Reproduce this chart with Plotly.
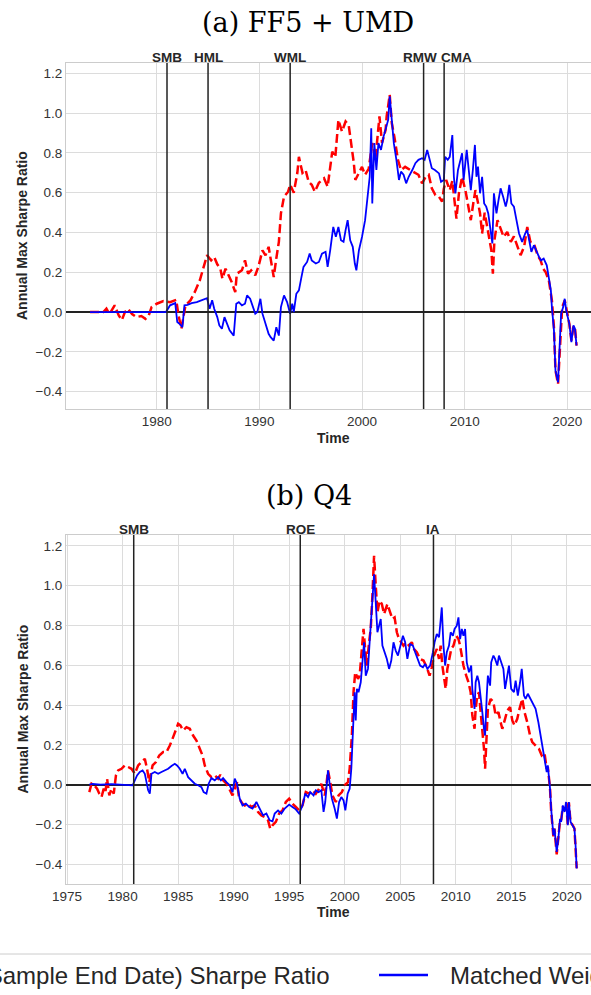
import plotly.graph_objects as go

W, H = 591, 995

# ---------------- DATA ----------------
FACTORS_A = ["SMB", "HML", "WML", "RMW", "CMA"]
FACTOR_YEARS_A = [1981, 1985, 1993, 2006, 2008]
FACTORS_B = ["SMB", "ROE", "IA"]
FACTOR_YEARS_B = [1981, 1996, 2008]

XTICKS_A = [1980, 1990, 2000, 2010, 2020]
XTICKS_B = [1975, 1980, 1985, 1990, 1995, 2000, 2005, 2010, 2015, 2020]
YTICKS = [-0.4, -0.2, 0.0, 0.2, 0.4, 0.6, 0.8, 1.0, 1.2]

TITLE_A = "(a) FF5 + UMD"
TITLE_B = "(b) Q4"
NAME_OPT = "Optimal (Full Sample End Date) Sharpe Ratio"
NAME_MATCH = "Matched Weights Sharpe Ratio"

# (a) FF5 + UMD : optimal (red dashed)
A_OPT = [(1973.5, 0.0), (1974.8, 0.0), (1975.1, 0.017), (1975.4, -0.01), (1975.9, 0.034), (1976.3, -0.017),
         (1976.6, -0.04), (1976.9, 0.0), (1977.2, 0.017), (1977.6, -0.01), (1978.0, -0.025), (1978.5, -0.02),
         (1978.9, -0.034), (1979.2, -0.02), (1979.5, 0.025), (1980.0, 0.042), (1980.65, 0.055), (1981.3, 0.05),
         (1981.9, 0.062), (1982.1, -0.01), (1982.4, -0.084), (1982.8, 0.034), (1983.3, 0.06), (1983.7, 0.1),
         (1984.2, 0.16), (1984.6, 0.227), (1984.9, 0.286), (1985.3, 0.26), (1985.6, 0.277), (1985.9, 0.24),
         (1986.2, 0.218), (1986.4, 0.168), (1986.7, 0.218), (1987.0, 0.185), (1987.3, 0.151), (1987.65, 0.1),
         (1987.8, 0.193), (1988.3, 0.21), (1988.6, 0.26), (1988.9, 0.193), (1989.2, 0.21), (1989.6, 0.185),
         (1989.9, 0.227), (1990.3, 0.31), (1990.6, 0.285), (1990.9, 0.328), (1991.15, 0.26), (1991.4, 0.176),
         (1991.65, 0.27), (1991.9, 0.353), (1992.1, 0.496), (1992.4, 0.58), (1992.8, 0.605), (1993.0, 0.64),
         (1993.35, 0.6), (1993.7, 0.70), (1993.85, 0.78), (1994.2, 0.7), (1994.5, 0.714), (1994.8, 0.655),
         (1995.1, 0.64), (1995.4, 0.605), (1995.8, 0.65), (1996.3, 0.672), (1996.65, 0.63), (1997.1, 0.806),
         (1997.4, 0.78), (1997.7, 0.966), (1998.05, 0.907), (1998.4, 0.958), (1998.7, 0.94), (1999.0, 0.83),
         (1999.2, 0.75), (1999.35, 0.664), (1999.7, 0.70), (2000.0, 0.73), (2000.3, 0.69), (2000.65, 0.72),
         (2001.0, 0.85), (2001.3, 0.765), (2001.7, 0.983), (2001.95, 0.85), (2002.3, 0.916), (2002.4, 0.983),
         (2002.7, 1.092), (2002.9, 0.95), (2003.15, 0.882), (2003.5, 0.765), (2003.8, 0.714), (2004.2, 0.73),
         (2004.7, 0.714), (2005.1, 0.70), (2005.5, 0.69), (2005.85, 0.647), (2006.2, 0.68), (2006.5, 0.69),
         (2006.8, 0.622), (2007.15, 0.588), (2007.5, 0.58), (2007.8, 0.555), (2007.97, 0.62), (2008.2, 0.664),
         (2008.55, 0.613), (2008.8, 0.66), (2009.0, 0.563), (2009.2, 0.47), (2009.45, 0.6), (2009.75, 0.68),
         (2010.1, 0.605), (2010.35, 0.53), (2010.6, 0.462), (2010.85, 0.55), (2011.05, 0.613), (2011.3, 0.55),
         (2011.5, 0.496), (2011.7, 0.395), (2011.95, 0.5), (2012.2, 0.428), (2012.35, 0.378), (2012.6, 0.311),
         (2012.75, 0.193), (2012.9, 0.361), (2013.2, 0.462), (2013.5, 0.42), (2013.8, 0.378), (2014.15, 0.403),
         (2014.5, 0.353), (2014.8, 0.38), (2015.1, 0.336), (2015.45, 0.286), (2015.8, 0.33), (2016.1, 0.428),
         (2016.4, 0.353), (2016.75, 0.345), (2017.1, 0.286), (2017.4, 0.26), (2017.65, 0.218), (2017.9, 0.2),
         (2018.2, 0.16), (2018.5, 0.059), (2018.7, -0.076), (2018.85, -0.294), (2019.1, -0.361), (2019.3, -0.176),
         (2019.5, 0.025), (2019.75, 0.059), (2019.95, 0.0), (2020.2, -0.059), (2020.4, -0.143), (2020.6, -0.07),
         (2020.75, -0.08), (2020.9, -0.168)]

# (a) FF5 + UMD : matched weights (blue solid)
A_MATCH = [(1973.5, 0.0), (1980.9, 0.0), (1981.3, 0.034), (1981.8, 0.045), (1982.0, -0.05), (1982.25, -0.06),
           (1982.5, -0.076), (1982.7, 0.034), (1983.0, 0.036), (1983.4, 0.045), (1983.9, 0.05), (1984.4, 0.062),
           (1984.9, 0.07), (1985.15, 0.017), (1985.4, 0.06), (1985.6, 0.017), (1985.9, -0.025), (1986.1, -0.067),
           (1986.35, -0.084), (1986.6, -0.025), (1986.85, -0.059), (1987.1, -0.092), (1987.5, -0.118),
           (1987.75, 0.042), (1988.0, 0.05), (1988.3, 0.034), (1988.6, 0.042), (1988.8, 0.084), (1989.1, 0.067),
           (1989.4, 0.017), (1989.6, -0.008), (1989.8, 0.0), (1990.1, 0.067), (1990.3, -0.008), (1990.6, -0.059),
           (1990.9, -0.109), (1991.1, -0.126), (1991.4, -0.143), (1991.65, -0.076), (1991.9, -0.118),
           (1992.1, 0.025), (1992.4, 0.084), (1992.7, 0.05), (1993.0, -0.008), (1993.2, 0.042), (1993.35, 0.0),
           (1993.6, 0.092), (1993.85, 0.109), (1994.1, 0.176), (1994.3, 0.227), (1994.65, 0.252), (1994.9, 0.294),
           (1995.1, 0.26), (1995.5, 0.244), (1995.8, 0.252), (1996.1, 0.294), (1996.45, 0.303), (1996.65, 0.227),
           (1996.9, 0.31), (1997.2, 0.428), (1997.45, 0.378), (1997.7, 0.428), (1997.95, 0.361), (1998.2, 0.353),
           (1998.4, 0.412), (1998.6, 0.462), (1998.85, 0.361), (1999.1, 0.328), (1999.3, 0.244), (1999.45, 0.21),
           (1999.7, 0.311), (2000.0, 0.378), (2000.3, 0.462), (2000.55, 0.58), (2000.75, 0.68), (2000.9, 0.924),
           (2001.0, 0.546), (2001.2, 0.849), (2001.4, 0.714), (2001.6, 0.849), (2001.85, 0.815), (2002.1, 0.882),
           (2002.35, 0.933), (2002.55, 0.966), (2002.7, 1.084), (2002.9, 0.95), (2003.1, 0.849), (2003.35, 0.765),
           (2003.6, 0.664), (2003.8, 0.706), (2004.05, 0.69), (2004.3, 0.647), (2004.55, 0.68), (2004.9, 0.714),
           (2005.2, 0.748), (2005.5, 0.765), (2005.85, 0.773), (2006.1, 0.765), (2006.35, 0.815), (2006.6, 0.765),
           (2006.8, 0.723), (2007.1, 0.714), (2007.5, 0.697), (2007.7, 0.655), (2007.97, 0.664), (2008.1, 0.78),
           (2008.35, 0.765), (2008.55, 0.78), (2008.8, 0.89), (2008.95, 0.68), (2009.1, 0.597), (2009.35, 0.714),
           (2009.55, 0.765), (2009.75, 0.798), (2009.9, 0.664), (2010.2, 0.815), (2010.4, 0.714), (2010.6, 0.613),
           (2010.8, 0.714), (2011.0, 0.84), (2011.15, 0.68), (2011.3, 0.731), (2011.5, 0.597), (2011.7, 0.68),
           (2011.9, 0.546), (2012.1, 0.53), (2012.3, 0.496), (2012.5, 0.428), (2012.7, 0.345), (2012.85, 0.597),
           (2013.1, 0.496), (2013.3, 0.563), (2013.5, 0.622), (2013.75, 0.58), (2014.0, 0.53), (2014.15, 0.563),
           (2014.35, 0.639), (2014.55, 0.546), (2014.8, 0.53), (2015.05, 0.462), (2015.3, 0.395), (2015.6, 0.353),
           (2015.9, 0.395), (2016.1, 0.412), (2016.3, 0.353), (2016.5, 0.303), (2016.75, 0.336), (2017.0, 0.303),
           (2017.25, 0.277), (2017.45, 0.26), (2017.7, 0.269), (2018.0, 0.235), (2018.2, 0.168), (2018.4, 0.109),
           (2018.5, 0.025), (2018.7, -0.092), (2018.85, -0.294), (2019.1, -0.353), (2019.25, -0.176),
           (2019.4, -0.008), (2019.6, 0.025), (2019.75, 0.067), (2019.9, 0.008), (2020.2, -0.059), (2020.4, -0.151),
           (2020.6, -0.067), (2020.75, -0.084), (2020.9, -0.168)]

# (b) Q4 : optimal (red dashed)
B_OPT = [(1977.0, -0.037), (1977.2, 0.005), (1977.45, -0.003), (1977.7, -0.02), (1977.9, -0.045), (1978.1, -0.062),
         (1978.3, -0.02), (1978.45, -0.037), (1978.6, 0.03), (1978.8, -0.054), (1979.0, -0.02), (1979.2, -0.045),
         (1979.4, 0.047), (1979.6, 0.072), (1979.9, 0.08), (1980.2, 0.097), (1980.5, 0.089), (1980.8, 0.08),
         (1981.1, 0.055), (1981.4, 0.097), (1981.7, 0.114), (1982.0, 0.13), (1982.2, 0.08), (1982.4, 0.013),
         (1982.7, 0.097), (1983.0, 0.114), (1983.3, 0.147), (1983.65, 0.164), (1983.95, 0.164), (1984.25, 0.197),
         (1984.55, 0.239), (1984.8, 0.281), (1985.0, 0.306), (1985.2, 0.298), (1985.45, 0.273), (1985.75, 0.289),
         (1986.05, 0.281), (1986.35, 0.247), (1986.65, 0.222), (1986.95, 0.181), (1987.2, 0.147), (1987.4, 0.097),
         (1987.7, 0.055), (1988.0, 0.038), (1988.3, 0.047), (1988.6, 0.03), (1988.8, 0.05), (1989.05, 0.022),
         (1989.35, 0.005), (1989.6, -0.02), (1989.9, -0.054), (1990.1, -0.02), (1990.3, 0.013), (1990.5, -0.07),
         (1990.8, -0.095), (1991.0, -0.104), (1991.3, -0.095), (1991.6, -0.112), (1991.9, -0.104), (1992.2, -0.137),
         (1992.5, -0.154), (1992.8, -0.162), (1993.1, -0.179), (1993.3, -0.221), (1993.5, -0.204), (1993.8, -0.187),
         (1994.1, -0.145), (1994.4, -0.129), (1994.7, -0.087), (1995.0, -0.07), (1995.3, -0.095), (1995.6, -0.112),
         (1995.9, -0.129), (1996.2, -0.104), (1996.5, -0.037), (1996.8, -0.045), (1997.1, -0.028), (1997.4, -0.045),
         (1997.7, -0.02), (1997.9, 0.005), (1998.05, -0.02), (1998.2, -0.054), (1998.35, -0.003), (1998.5, 0.072),
         (1998.7, 0.013), (1998.9, -0.054), (1999.2, -0.087), (1999.45, -0.054), (1999.75, -0.037), (2000.0, -0.003),
         (2000.3, 0.013), (2000.45, 0.08), (2000.65, 0.247), (2000.8, 0.465), (2000.95, 0.565), (2001.2, 0.532),
         (2001.35, 0.548), (2001.5, 0.649), (2001.7, 0.783), (2001.85, 0.682), (2002.0, 0.599), (2002.2, 0.716),
         (2002.35, 0.783), (2002.5, 0.95), (2002.65, 1.15), (2002.8, 1.0), (2002.95, 0.866), (2003.15, 0.925),
         (2003.35, 0.908), (2003.55, 0.858), (2003.85, 0.908), (2004.1, 0.866), (2004.3, 0.833), (2004.5, 0.841),
         (2004.7, 0.766), (2004.9, 0.732), (2005.1, 0.716), (2005.3, 0.699), (2005.55, 0.716), (2005.8, 0.699),
         (2006.05, 0.716), (2006.25, 0.682), (2006.5, 0.666), (2006.8, 0.632), (2007.1, 0.624), (2007.4, 0.59),
         (2007.65, 0.548), (2007.85, 0.59), (2008.05, 0.649), (2008.3, 0.682), (2008.5, 0.632), (2008.65, 0.699),
         (2008.8, 0.599), (2008.95, 0.548), (2009.1, 0.482), (2009.25, 0.582), (2009.45, 0.649), (2009.6, 0.682),
         (2009.8, 0.699), (2010.05, 0.749), (2010.25, 0.732), (2010.4, 0.699), (2010.55, 0.649), (2010.7, 0.599),
         (2010.95, 0.548), (2011.15, 0.515), (2011.35, 0.465), (2011.5, 0.348), (2011.7, 0.281), (2011.8, 0.381),
         (2011.95, 0.448), (2012.1, 0.465), (2012.25, 0.365), (2012.4, 0.281), (2012.55, 0.181), (2012.65, 0.08),
         (2012.8, 0.247), (2012.9, 0.381), (2013.15, 0.431), (2013.4, 0.415), (2013.6, 0.348), (2013.85, 0.365),
         (2014.05, 0.314), (2014.2, 0.281), (2014.45, 0.331), (2014.65, 0.373), (2014.9, 0.39), (2015.1, 0.323),
         (2015.3, 0.298), (2015.55, 0.331), (2015.75, 0.381), (2016.0, 0.431), (2016.2, 0.365), (2016.45, 0.314),
         (2016.7, 0.247), (2016.9, 0.214), (2017.2, 0.197), (2017.5, 0.181), (2017.75, 0.147), (2018.0, 0.16),
         (2018.2, 0.08), (2018.3, 0.09), (2018.5, -0.02), (2018.6, -0.13), (2018.8, -0.26), (2018.9, -0.22),
         (2019.1, -0.35), (2019.25, -0.27), (2019.4, -0.18), (2019.5, -0.18), (2019.65, -0.11), (2019.8, -0.13),
         (2019.95, -0.09), (2020.1, -0.2), (2020.2, -0.09), (2020.35, -0.19), (2020.5, -0.2), (2020.7, -0.22),
         (2020.8, -0.3), (2020.9, -0.42)]

# (b) Q4 : matched weights (blue solid)
B_MATCH = [(1977.0, 0.0), (1977.3, 0.004), (1978.0, 0.0), (1979.0, 0.003), (1980.9, -0.003), (1981.1, 0.022),
           (1981.3, 0.047), (1981.55, 0.064), (1981.8, 0.072), (1982.0, 0.055), (1982.15, 0.013), (1982.3, -0.028),
           (1982.45, -0.045), (1982.6, 0.055), (1982.9, 0.064), (1983.2, 0.055), (1983.5, 0.064), (1983.8, 0.072),
           (1984.1, 0.08), (1984.4, 0.094), (1984.7, 0.105), (1984.9, 0.097), (1985.15, 0.08), (1985.4, 0.055),
           (1985.6, 0.08), (1985.9, 0.038), (1986.2, 0.022), (1986.5, 0.005), (1986.8, -0.003), (1987.1, -0.012),
           (1987.3, -0.037), (1987.55, -0.045), (1987.75, 0.005), (1988.0, 0.033), (1988.3, 0.022), (1988.6, 0.038),
           (1988.85, 0.022), (1989.05, 0.033), (1989.35, 0.013), (1989.65, -0.003), (1989.9, -0.037), (1990.1, 0.03),
           (1990.3, 0.005), (1990.55, -0.07), (1990.8, -0.104), (1991.1, -0.095), (1991.4, -0.112), (1991.7, -0.12),
           (1992.05, -0.087), (1992.35, -0.12), (1992.65, -0.154), (1992.95, -0.145), (1993.25, -0.179),
           (1993.5, -0.184), (1993.7, -0.145), (1994.0, -0.129), (1994.3, -0.145), (1994.6, -0.12), (1995.0, -0.1),
           (1995.3, -0.112), (1995.6, -0.124), (1995.9, -0.145), (1996.2, -0.104), (1996.45, -0.045), (1996.7, -0.062),
           (1996.9, -0.037), (1997.2, -0.054), (1997.4, -0.028), (1997.65, -0.037), (1997.9, -0.028), (1998.1, -0.137),
           (1998.25, -0.087), (1998.5, 0.072), (1998.7, -0.02), (1998.85, -0.07), (1999.1, -0.12), (1999.3, -0.17),
           (1999.5, -0.087), (1999.7, -0.062), (1999.9, -0.079), (2000.06, -0.129), (2000.27, -0.045),
           (2000.45, -0.02), (2000.6, 0.08), (2000.75, 0.247), (2000.9, 0.465), (2001.0, 0.323), (2001.1, 0.482),
           (2001.25, 0.465), (2001.45, 0.515), (2001.6, 0.615), (2001.75, 0.716), (2001.9, 0.548), (2002.1, 0.582),
           (2002.25, 0.716), (2002.4, 0.866), (2002.55, 0.983), (2002.65, 1.058), (2002.8, 0.916), (2002.95, 0.766),
           (2003.1, 0.799), (2003.25, 0.833), (2003.4, 0.699), (2003.6, 0.666), (2003.8, 0.632), (2004.0, 0.582),
           (2004.2, 0.624), (2004.4, 0.716), (2004.6, 0.674), (2004.8, 0.649), (2005.0, 0.699), (2005.25, 0.749),
           (2005.45, 0.716), (2005.65, 0.632), (2005.9, 0.707), (2006.15, 0.699), (2006.35, 0.666), (2006.55, 0.64),
           (2006.8, 0.599), (2007.05, 0.59), (2007.25, 0.607), (2007.45, 0.582), (2007.7, 0.599), (2007.95, 0.666),
           (2008.1, 0.716), (2008.3, 0.757), (2008.5, 0.741), (2008.6, 0.799), (2008.75, 0.891), (2008.9, 0.699),
           (2009.05, 0.599), (2009.2, 0.666), (2009.4, 0.699), (2009.55, 0.766), (2009.75, 0.749), (2009.9, 0.783),
           (2010.1, 0.799), (2010.25, 0.841), (2010.4, 0.732), (2010.55, 0.783), (2010.7, 0.749), (2010.85, 0.783),
           (2011.0, 0.615), (2011.2, 0.565), (2011.4, 0.599), (2011.5, 0.482), (2011.7, 0.381), (2011.8, 0.515),
           (2011.95, 0.548), (2012.1, 0.515), (2012.25, 0.448), (2012.4, 0.365), (2012.55, 0.281), (2012.65, 0.247),
           (2012.8, 0.448), (2012.9, 0.548), (2013.1, 0.498), (2013.2, 0.615), (2013.4, 0.649), (2013.55, 0.632),
           (2013.75, 0.599), (2013.9, 0.649), (2014.1, 0.615), (2014.3, 0.582), (2014.45, 0.482), (2014.65, 0.548),
           (2014.8, 0.599), (2015.0, 0.482), (2015.25, 0.465), (2015.4, 0.523), (2015.6, 0.448), (2015.8, 0.515),
           (2015.95, 0.582), (2016.15, 0.448), (2016.3, 0.431), (2016.5, 0.457), (2016.75, 0.431), (2017.0, 0.398),
           (2017.2, 0.381), (2017.45, 0.314), (2017.65, 0.247), (2017.8, 0.181), (2018.0, 0.114), (2018.2, 0.064),
           (2018.3, 0.097), (2018.5, -0.02), (2018.6, -0.12), (2018.8, -0.254), (2018.9, -0.221), (2019.1, -0.338),
           (2019.25, -0.271), (2019.4, -0.171), (2019.5, -0.187), (2019.65, -0.104), (2019.8, -0.137),
           (2019.95, -0.087), (2020.1, -0.204), (2020.2, -0.087), (2020.35, -0.187), (2020.5, -0.204),
           (2020.7, -0.221), (2020.8, -0.304), (2020.9, -0.421)]

# ---------------- FIGURE ----------------
SANS = "Liberation Sans, Arial, sans-serif"
SERIF = "DejaVu Serif, serif"
TXT = "#262626"
RED = "#ff0000"
BLUE = "#0000ff"

# pixel nudges of factor labels (style only)
LABEL_SHIFT_A = [0, 0, 0, -4, 12]
LABEL_SHIFT_B = [0, 0, 0]


def py(p):  # pixel row -> paper y
    return 1 - p / H


def unzip(pairs):
    return [p[0] for p in pairs], [p[1] for p in pairs]


fig = go.Figure()
for series, color, dash, width, xa, ya in [
    (A_OPT, RED, "9px,4px", 2.5, "x", "y"),
    (A_MATCH, BLUE, "solid", 1.8, "x", "y"),
    (B_OPT, RED, "9px,4px", 2.5, "x2", "y2"),
    (B_MATCH, BLUE, "solid", 1.8, "x2", "y2"),
]:
    xs, ys = unzip(series)
    fig.add_trace(go.Scatter(x=xs, y=ys, mode="lines", xaxis=xa, yaxis=ya, showlegend=False,
                             line=dict(color=color, width=width, dash=dash)))

GRID = "#dcdcdc"
SPINE = "#cccccc"
tickfont = dict(family=SANS, size=13.5, color="#333333")

xcommon = dict(showgrid=True, gridcolor=GRID, gridwidth=1, showline=True, linecolor=SPINE, linewidth=1.2,
               mirror=True, zeroline=False, ticks="", tickfont=tickfont, fixedrange=True, automargin=False)
ycommon = dict(showgrid=True, gridcolor=GRID, gridwidth=1, showline=True, linecolor=SPINE, linewidth=1.2,
               mirror=False, zeroline=True, zerolinecolor="#222222", zerolinewidth=1.5, ticks="",
               tickvals=YTICKS, tickformat=".1f", tickfont=tickfont, fixedrange=True, automargin=False)

X0 = 66 / W
fig.update_layout(
    template="none",
    width=W, height=H, autosize=False,
    margin=dict(l=0, r=0, t=0, b=0, pad=0, autoexpand=False),
    paper_bgcolor="white", plot_bgcolor="white",
    showlegend=False,
    xaxis=dict(xcommon, domain=[X0, 1], range=[1971.16, 2022.31], tickvals=XTICKS_A, anchor="y"),
    yaxis=dict(ycommon, domain=[py(409), py(63)], range=[-0.487, 1.2518], anchor="x"),
    xaxis2=dict(xcommon, domain=[X0, 1], range=[1974.9, 2022.19], tickvals=XTICKS_B, anchor="y2"),
    yaxis2=dict(ycommon, domain=[py(884), py(535)], range=[-0.499, 1.255], anchor="x2"),
)

shapes = []
annotations = []
for names, years, shifts, xr, yr in [(FACTORS_A, FACTOR_YEARS_A, LABEL_SHIFT_A, "x", "y"),
                                     (FACTORS_B, FACTOR_YEARS_B, LABEL_SHIFT_B, "x2", "y2")]:
    for n, yv, sh in zip(names, years, shifts):
        shapes.append(dict(type="line", xref=xr, yref=yr + " domain", x0=yv, x1=yv, y0=0, y1=1,
                           line=dict(color="#222222", width=1.5), layer="above"))
        annotations.append(dict(xref=xr, yref=yr + " domain", x=yv, y=1, yanchor="bottom", xanchor="center",
                                text="<b>%s</b>" % n, showarrow=False, yshift=-4, xshift=sh,
                                font=dict(family=SANS, size=13.5, color=TXT)))

# titles
annotations.append(dict(xref="paper", yref="paper", x=308 / W, y=py(23), xanchor="center", yanchor="middle",
                        text=TITLE_A, showarrow=False, font=dict(family=SERIF, size=27, color="black")))
annotations.append(dict(xref="paper", yref="paper", x=309 / W, y=py(495), xanchor="center", yanchor="middle",
                        text=TITLE_B, showarrow=False, font=dict(family=SERIF, size=27, color="black")))
# axis titles
for ty, yc in [(438, 236), (912, 709.5)]:
    annotations.append(dict(xref="paper", yref="paper", x=333.5 / W, y=py(ty), xanchor="center", yanchor="middle",
                            text="<b>Time</b>", showarrow=False, font=dict(family=SANS, size=14, color=TXT)))
    annotations.append(dict(xref="paper", yref="paper", x=22 / W, y=py(yc), xanchor="center", yanchor="middle",
                            text="<b>Annual Max Sharpe Ratio</b>", textangle=-90, showarrow=False,
                            font=dict(family=SANS, size=14, color=TXT)))

# legend (cropped at figure edges): top border of the legend frame and the visible entry
shapes.append(dict(type="line", xref="paper", yref="paper", x0=0, x1=1, y0=py(954), y1=py(954),
                   line=dict(color="#cccccc", width=1), layer="above"))
shapes.append(dict(type="line", xref="paper", yref="paper", x0=379 / W, x1=428 / W, y0=py(975), y1=py(975),
                   line=dict(color=BLUE, width=2.5), layer="above"))
annotations.append(dict(xref="paper", yref="paper", x=332 / W, y=py(975), xanchor="right", yanchor="middle",
                        text=NAME_OPT, showarrow=False, font=dict(family=SANS, size=24, color=TXT)))
annotations.append(dict(xref="paper", yref="paper", x=448 / W, y=py(975), xanchor="left", yanchor="middle",
                        text=NAME_MATCH, showarrow=False, font=dict(family=SANS, size=24, color=TXT)))

fig.update_layout(shapes=shapes, annotations=annotations)
fig.write_html("out.html", config={"displayModeBar": False})
